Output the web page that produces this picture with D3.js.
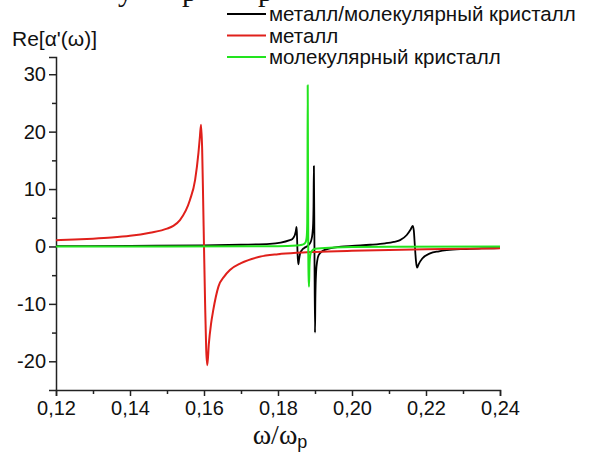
<!DOCTYPE html>
<html>
<head>
<meta charset="utf-8">
<script src="https://cdn.jsdelivr.net/npm/d3@7"></script>
<style>
  body { margin: 0; background: #fff; }
  svg { display: block; }
</style>
</head>
<body>
<div id="chart"></div>
<script>
// values: [omega/omega_p, Re]
const metal = [
  [0.12, 1.1], [0.125, 1.2], [0.13, 1.35], [0.135, 1.55], [0.14, 1.85],
  [0.1454, 2.4], [0.15, 3.1], [0.1517, 3.6], [0.1535, 4.6], [0.1562, 8.1],
  [0.1576, 11.6], [0.1585, 16.3], [0.1589, 19.2], [0.1592, 21.2], [0.1595, 17],
  [0.1598, 7], [0.16, 0], [0.1603, -10], [0.1606, -18], [0.1609, -20.7],
  [0.1613, -17], [0.1619, -13.5], [0.1625, -11.1], [0.1639, -7.0], [0.1655, -5.2],
  [0.167, -4.1], [0.17, -2.9], [0.175, -1.8], [0.18, -1.35], [0.185, -1.1],
  [0.19, -0.95], [0.2, -0.75], [0.21, -0.6], [0.22, -0.5], [0.23, -0.4], [0.24, -0.3]
];
const metalCrystal = [
  [0.12, 0.05], [0.14, 0.1], [0.16, 0.2], [0.17, 0.3], [0.1778, 0.45],
  [0.1832, 1.1], [0.1838, 1.25], [0.1845, 1.9], [0.1848, 2.6], [0.185, 3.4],
  [0.1851, 2.5], [0.1852, 0.5], [0.1853, -1.5], [0.1855, -3.1], [0.1857, -2.2],
  [0.186, -1.2], [0.1865, -0.6], [0.187, -0.3], [0.188, 0.1], [0.1886, 0.5],
  [0.189, 1.1], [0.1893, 2.2], [0.1895, 4], [0.1896, 7], [0.1897, 14],
  [0.18985, 0], [0.19, -15], [0.1901, -9], [0.1903, -4.5], [0.1906, -2.5],
  [0.191, -1.5], [0.192, -0.8], [0.194, -0.35], [0.197, -0.05], [0.2, 0.1],
  [0.205, 0.3], [0.209, 0.55], [0.2113, 0.8], [0.213, 1.1], [0.2148, 2.0],
  [0.2158, 2.9], [0.2164, 3.6], [0.2167, 2.8], [0.217, 0], [0.2173, -2.6],
  [0.2176, -3.7], [0.218, -3.1], [0.219, -2.1], [0.2211, -1.2], [0.2235, -0.85],
  [0.2256, -0.65], [0.23, -0.45], [0.235, -0.35], [0.24, -0.3]
];
const crystal = [
  [0.12, 0], [0.15, 0], [0.18, 0.05], [0.185, 0.15], [0.1865, 0.3],
  [0.1872, 0.5], [0.1876, 1.0], [0.1878, 2], [0.1879, 4], [0.18797, 10],
  [0.18803, 28.1], [0.1881, 15], [0.18818, 0], [0.18826, -5], [0.18838, -7.0],
  [0.1885, -3.5], [0.1887, -1.6], [0.189, -0.9], [0.19, -0.4], [0.195, -0.2],
  [0.2, -0.1], [0.21, -0.05], [0.24, 0]
];

const xTicks = [0.12, 0.14, 0.16, 0.18, 0.20, 0.22, 0.24];
const xMinor = [0.13, 0.15, 0.17, 0.19, 0.21, 0.23];
const yTicks = [-20, -10, 0, 10, 20, 30];
const yMinor = [-15, -5, 5, 15, 25];

const legendNames = ["металл/молекулярный кристалл", "металл", "молекулярный кристалл"];
const colors = ["#000000", "#e0201b", "#22e41e"];

const width = 590, height = 453;
const sans = "Liberation Sans, Arial, sans-serif";
const serif = "Liberation Serif, Times New Roman, serif";

const svg = d3.select("#chart").append("svg")
  .attr("width", width).attr("height", height);

const x = d3.scaleLinear().domain([0.12, 0.24]).range([56, 500]);
const y = d3.scaleLinear().domain([-25, 33]).range([390, 57]);

const fmt = d => d3.format(".2f")(d).replace(".", ",");
const fmtY = d => String(d); // plain hyphen minus, as in the original

// axes
svg.append("g").attr("transform", "translate(0,390)")
  .call(d3.axisBottom(x).tickValues(xTicks).tickFormat(fmt).tickSizeOuter(0).tickSize(6).tickPadding(5));
svg.append("g").attr("transform", "translate(0,390)")
  .call(d3.axisBottom(x).tickValues(xMinor).tickFormat("").tickSizeOuter(0).tickSize(4))
  .select(".domain").remove();

svg.append("g").attr("transform", "translate(56,0)")
  .call(d3.axisLeft(y).tickValues(yTicks).tickFormat(fmtY).tickSizeOuter(0).tickSize(7).tickPadding(3));
svg.append("g").attr("transform", "translate(56,0)")
  .call(d3.axisLeft(y).tickValues(yMinor).tickFormat("").tickSizeOuter(0).tickSize(4))
  .select(".domain").remove();

svg.selectAll(".domain, .tick line").attr("stroke", "#222").attr("stroke-width", 1.5);
svg.selectAll(".tick text")
  .attr("font-family", sans)
  .attr("font-size", 20).attr("fill", "#111");

// curves
const line = d3.line().x(d => x(d[0])).y(d => y(d[1])).curve(d3.curveMonotoneX);
const series = [metalCrystal, metal, crystal];
const widths = [1.8, 2, 2];
series.forEach((s, i) => {
  svg.append("path").datum(s)
    .attr("fill", "none")
    .attr("stroke", colors[i])
    .attr("stroke-width", widths[i])
    .attr("stroke-linejoin", "round")
    .attr("d", line);
});

// legend
const legend = svg.append("g");
legendNames.forEach((name, i) => {
  const ly = 14 + i * 21.5;
  legend.append("line").attr("x1", 227).attr("x2", 266).attr("y1", ly).attr("y2", ly)
    .attr("stroke", colors[i]).attr("stroke-width", 2);
  legend.append("text").attr("x", 269).attr("y", ly + 7)
    .attr("font-family", sans)
    .attr("font-size", 20.5).attr("fill", "#111").text(name);
});

// axis titles
svg.append("text").attr("x", 12).attr("y", 46)
  .attr("font-family", sans)
  .attr("font-size", 21).attr("fill", "#111").text("Re[α'(ω)]");

const xt = svg.append("text").attr("x", 280).attr("y", 444).attr("text-anchor", "middle")
  .attr("font-family", serif)
  .attr("font-size", 28).attr("fill", "#111");
xt.append("tspan").text("ω/ω");
xt.append("tspan").attr("font-family", sans)
  .attr("font-size", 18).attr("dy", 4).text("p");

// fragments of the text line cut off above the figure
const cut = [["у", 118], ["р", 182], ["р", 258]];
cut.forEach(([ch, cx]) => {
  svg.append("text").attr("x", cx).attr("y", 1)
    .attr("font-family", serif)
    .attr("font-size", 30).attr("fill", "#111").text(ch);
});
</script>
</body>
</html>
